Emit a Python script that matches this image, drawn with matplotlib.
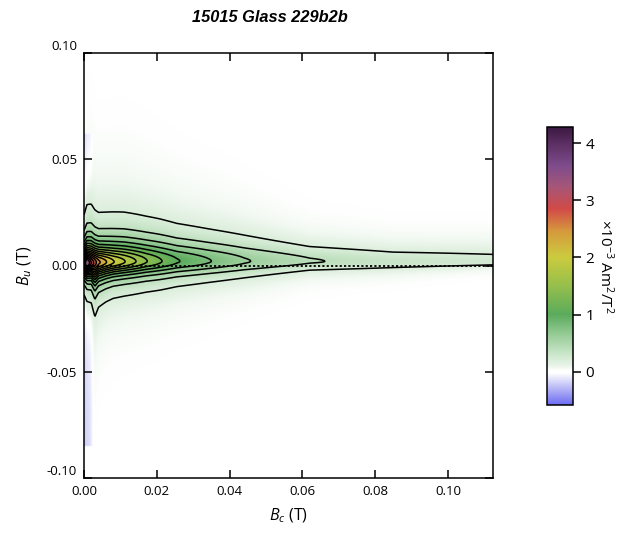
import numpy as np
import matplotlib
matplotlib.use("Agg")
import matplotlib.pyplot as plt
from matplotlib.colors import LinearSegmentedColormap, Normalize

plt.rcParams['font.family'] = ['Open Sans', 'DejaVu Sans']
plt.rcParams['axes.unicode_minus'] = False
plt.rcParams['mathtext.fontset'] = 'custom'
plt.rcParams['mathtext.rm'] = 'Open Sans'
plt.rcParams['mathtext.it'] = 'Open Sans:italic'

# ---- data (x10^-3 Am^2/T^2) ----
title = "15015 Glass 229b2b"
# ridge profile along Bc
bc_nodes = [0.000, 0.0008, 0.002, 0.003, 0.004, 0.006, 0.008, 0.011, 0.014, 0.017,
            0.021, 0.0255, 0.034, 0.044, 0.062, 0.085, 0.1124]
ridge_peak = [2.9, 3.5, 3.0, 2.7, 2.45, 2.22, 2.02, 1.82, 1.62, 1.42,
              1.22, 1.02, 0.82, 0.62, 0.42, 0.31, 0.26]
ridge_center = [0.0010, 0.0010, 0.0012, 0.0014, 0.0015, 0.0016, 0.0017, 0.0018, 0.0019, 0.0020,
                0.0020, 0.0020, 0.0020, 0.0020, 0.0020, 0.0017, 0.0015]
width_up = [0.0062, 0.0068, 0.0074, 0.0070, 0.0070, 0.0074, 0.0078, 0.0082, 0.0084, 0.0086,
            0.0088, 0.0088, 0.0087, 0.0085, 0.0066, 0.0062, 0.0068]
width_dn = [0.0040, 0.0044, 0.0050, 0.0072, 0.0063, 0.0059, 0.0057, 0.0057, 0.0058, 0.0059,
            0.0060, 0.0059, 0.0057, 0.0054, 0.0040, 0.0036, 0.0022]
# faint negative strip next to Bc = 0
strip_bc = [0.0, 0.0016, 0.0026]
strip_val = [-0.22, -0.16, 0.0]
strip_bu_range = [-0.085, 0.062]

contour_levels = [0.2, 0.4, 0.6, 0.8, 1.0, 1.2, 1.4, 1.6, 1.8, 2.0, 2.2, 2.4, 2.6, 2.8, 3.0, 3.2]
cbar_ticks = [0, 1, 2, 3, 4]
cbar_range = [-0.58, 4.28]
x_ticks = [0.00, 0.02, 0.04, 0.06, 0.08, 0.10]
x_labels = ["0.00", "0.02", "0.04", "0.06", "0.08", "0.10"]
y_ticks = [-0.10, -0.05, 0.00, 0.05, 0.10]
y_labels = ["-0.10", "-0.05", "0.00", "0.05", "0.10"]
x_lim = [0.0, 0.1124]
y_lim = [-0.10, 0.10]

# ---- build the field on a grid ----
bc = np.linspace(x_lim[0], x_lim[1], 700)
bu = np.linspace(y_lim[0], y_lim[1], 1000)
BC, BU = np.meshgrid(bc, bu)
P = np.interp(BC, bc_nodes, ridge_peak)
C = np.interp(BC, bc_nodes, ridge_center)
WU = np.interp(BC, bc_nodes, width_up)
WD = np.interp(BC, bc_nodes, width_dn)
D = BU - C
W = np.where(D >= 0, WU, WD)
Z = P / (1.0 + (D / W) ** 2)
S = np.interp(BC, strip_bc, strip_val) * ((BU > strip_bu_range[0]) & (BU < strip_bu_range[1]))
Zimg = Z + S * np.clip(1 - Z / 0.15, 0, 1)

# ---- colormap ----
stops = [(-0.58, '#6a6af2'), (-0.3, '#b4b4f6'), (-0.02, '#ffffff'), (0.02, '#ffffff'),
         (0.12, '#e6f3e6'), (0.35, '#c4e3c4'), (0.65, '#96cb96'),
         (1.0, '#5aab5c'), (1.5, '#95bf4c'), (2.0, '#cbcb3e'),
         (2.45, '#d59a3c'), (2.85, '#d24a48'), (3.25, '#a45678'), (3.6, '#7e4c8c'),
         (4.0, '#5a2e62'), (4.28, '#3a1840')]
vmin, vmax = cbar_range
cmap = LinearSegmentedColormap.from_list(
    'forc', [((v - vmin) / (vmax - vmin), c) for v, c in stops], N=2048)
norm = Normalize(vmin=vmin, vmax=vmax)

fig = plt.figure(figsize=(6.31, 5.37), dpi=100)
ax = fig.add_axes([84 / 631, 1 - 478 / 537, (493 - 84) / 631, (478 - 53) / 537])
im = ax.imshow(Zimg, origin='lower', extent=[x_lim[0], x_lim[1], y_lim[0], y_lim[1]],
               aspect='auto', cmap=cmap, norm=norm, interpolation='bilinear')
ax.contour(BC, BU, Z, levels=contour_levels, colors='black', linewidths=1.1)
ax.axhline(0.0, color='black', lw=1.3, ls=(0, (1.2, 1.2)))
ax.set_xlim(x_lim)
ax.set_ylim(y_lim)
ax.set_xticks(x_ticks)
ax.set_xticklabels(x_labels)
ax.set_yticks(y_ticks)
ax.set_yticklabels(y_labels)
ax.tick_params(direction='in', length=6, width=1.1, top=True, right=True,
               labelsize=9.5, colors='black', pad=5)
for lab in ax.get_yticklabels():
    if lab.get_text() == "-0.10":
        lab.set_va('bottom')
    if lab.get_text() == "0.10":
        lab.set_va('bottom')
for s in ax.spines.values():
    s.set_linewidth(1.1)
ax.set_xlabel(r'$B_c$ (T)', fontsize=11.5, labelpad=6)
ax.set_ylabel(r'$B_u$ (T)', fontsize=11.5, labelpad=9)

fig.text(270 / 631, 1 - 18 / 537, title, ha='center', va='center',
         fontsize=11.8, fontweight='bold', fontstyle='italic', family='Liberation Sans')

cax = fig.add_axes([547 / 631, 1 - 405 / 537, 26 / 631, 278 / 537])
cb = fig.colorbar(im, cax=cax, ticks=cbar_ticks)
cb.outline.set_linewidth(1.1)
cax.tick_params(direction='out', length=6, width=1.1, labelsize=11, pad=3)
cb.set_label('×10$^{-3}$ Am$^2$/T$^2$', rotation=270, fontsize=11, labelpad=15)

fig.savefig('out.png', dpi=100)
